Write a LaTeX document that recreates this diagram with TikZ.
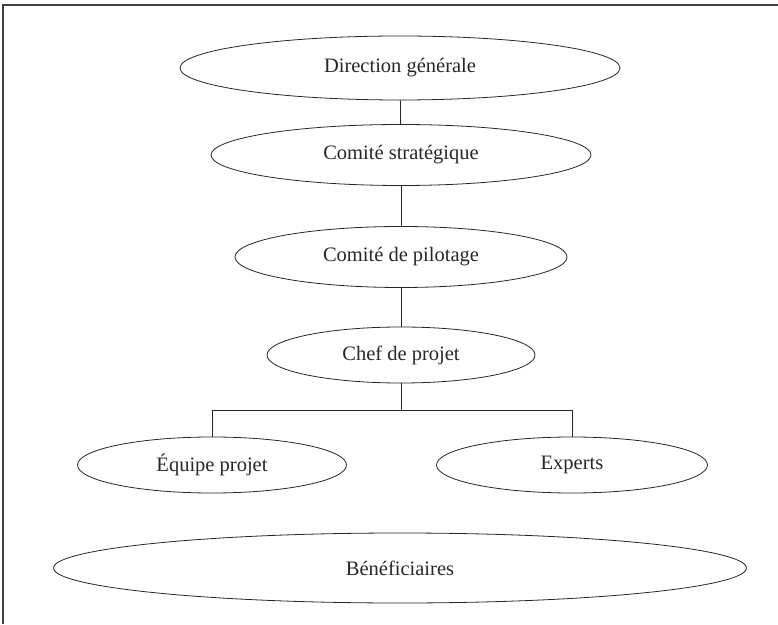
\documentclass[tikz,border=0pt]{standalone}
\usepackage{fontspec}
\setmainfont{Liberation Serif}
\usetikzlibrary{shapes.geometric}
\begin{document}
\begin{tikzpicture}[x=1pt,y=1pt,
  oval/.style={draw=black!85, line width=0.8pt, ellipse, inner sep=0pt, font=\fontsize{20.5}{24}\selectfont, text=black!85},
  link/.style={draw=black!85, line width=0.8pt}]
\useasboundingbox (0,0) rectangle (778,624);
\draw[line width=1.2pt, black!75] (3,0) -- (3,619) -- (778,619);
\node[oval, minimum width=440, minimum height=64] (dg) at (400,556) {Direction générale};
\node[oval, minimum width=380, minimum height=61] (cs) at (401,469) {Comité stratégique};
\node[oval, minimum width=332, minimum height=61] (cp) at (401,367) {Comité de pilotage};
\node[oval, minimum width=268, minimum height=56] (ch) at (401,269) {Chef de projet};
\node[oval, minimum width=269, minimum height=56] (eq) at (212,159) {Équipe projet};
\node[oval, minimum width=271, minimum height=56] (ex) at (572,159) {Experts};
\node[oval, minimum width=693, minimum height=70] (be) at (400,56) {Bénéficiaires};
\coordinate (bar) at (401,214);
\draw[link] (dg) -- (cs);
\draw[link] (cs) -- (cp);
\draw[link] (cp) -- (ch);
\draw[link] (ch.south) -- (ch.south |- bar);
\draw[link] (eq.north) -- (eq.north |- bar) -- (ex.north |- bar) -- (ex.north);
\end{tikzpicture}
\end{document}
